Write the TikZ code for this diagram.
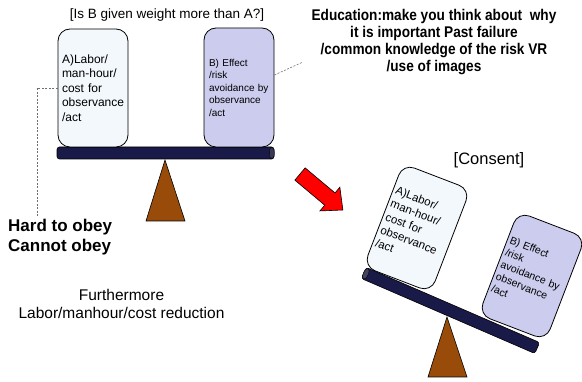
\documentclass[tikz,border=0pt]{standalone}
\usepackage{fontspec}
\setmainfont{Liberation Sans}
\newfontfamily\gothic[FakeStretch=0.88]{Liberation Sans}
\usetikzlibrary{calc}
\definecolor{boxAfill}{RGB}{243,248,252}
\definecolor{boxBfill}{RGB}{204,204,238}
\definecolor{beamcol}{RGB}{26,26,72}
\definecolor{pivotcol}{RGB}{153,76,10}
\definecolor{dashcol}{RGB}{110,110,110}
\tikzset{
  wbox/.style={draw=black, line width=0.8pt, rounded corners=12pt, inner sep=0pt, align=left},
  boxa/.style={wbox, fill=boxAfill, minimum width=70pt, minimum height=118pt, text width=62pt, font=\fontsize{12}{14.5}\selectfont},
  boxb/.style={wbox, fill=boxBfill, minimum width=70pt, minimum height=119pt, text width=60pt, font=\fontsize{10}{12.5}\selectfont},
  beam/.style={draw=black, line width=0.6pt, fill=beamcol, rounded corners=2.5pt, minimum height=12pt, inner sep=0pt},
  pivot/.style={draw=black, line width=0.6pt, fill=pivotcol},
  dashline/.style={draw=dashcol, line width=0.6pt, dash pattern=on 2pt off 1.5pt},
  txt/.style={inner sep=0pt, align=center},
}
\begin{document}
\begin{tikzpicture}[x=1pt,y=-1pt]
\useasboundingbox (0,0) rectangle (582,382);
% ---------- left balance ----------
\node[beam, minimum width=217pt] (beamL) at (165.5,153) {};
\draw[fill=beamcol!70!gray, draw=black, line width=0.4pt] ($(beamL.east)+(-2.5,0)$) ellipse [x radius=2.5pt, y radius=5.8pt];
\draw[pivot] (165,160) -- (185,221) -- (146,221) -- cycle;
\node[boxa] (A) at (93,88) {A)Labor/\\man-hour/\\cost for\\observance\\/act};
\node[boxb] (B) at (239,87.5) {B) Effect\\/risk\\avoidance by\\observance\\/act};
\node[txt, font=\fontsize{13.5}{16}\selectfont] (title) at (167,15) {[Is B given weight more than A?]};
\node[txt, font=\gothic\bfseries\fontsize{15.5}{16.7}\selectfont] (edu) at (434,42)
  {Education:make you think about\ \ why\\it is important Past failure\\/common knowledge of the risk VR\\/use of images};
\node[txt, align=left, anchor=west, font=\bfseries\fontsize{17}{20}\selectfont] (hard) at (8,237) {Hard to obey\\Cannot obey};
\node[txt, font=\fontsize{15.5}{18}\selectfont] (further) at (121.5,304) {Furthermore\\Labor/manhour/cost reduction};
% dashed connectors
\coordinate (dB) at (303,62);
\coordinate (dA) at (37,217);
\draw[dashline] ([yshift=12.5pt]B.east) -- (dB);
\draw[dashline] (A.west) -| (dA);
% ---------- red arrow ----------
\draw[fill=red, draw=black, line width=0.6pt, shift={(300,174)}, rotate=-40]
  (0,-8) -- (39,-8) -- (39,-15.5) -- (56,0) -- (39,15.5) -- (39,8) -- (0,8) -- cycle;
% ---------- right balance ----------
\node[beam, minimum width=189pt, rotate=-23.4] (beamR) at (450.5,310.5) {};
\draw[fill=beamcol!60!gray, draw=black, line width=0.4pt, rotate around={-23.4:(beamR.west)}] ($(beamR.west)+(2.5,0)$) ellipse [x radius=2.5pt, y radius=5.8pt];
\draw[pivot] (447,317) -- (467,377) -- (428,377) -- cycle;
\node[boxa, rotate=-21, minimum width=72pt, minimum height=110pt, text width=66pt, font=\fontsize{11.5}{14}\selectfont] (A2) at (417,228) {A)Labor/\\man-hour/\\cost for\\observance\\/act};
\node[boxb, rotate=-21, minimum width=72pt, minimum height=110pt, text width=66pt, font=\fontsize{10.5}{13}\selectfont] (B2) at (532,276) {B) Effect\\/risk\\avoidance by\\observance\\/act};
\node[txt, font=\fontsize{16.5}{19}\selectfont] (consent) at (489,160) {[Consent]};
\end{tikzpicture}
\end{document}
